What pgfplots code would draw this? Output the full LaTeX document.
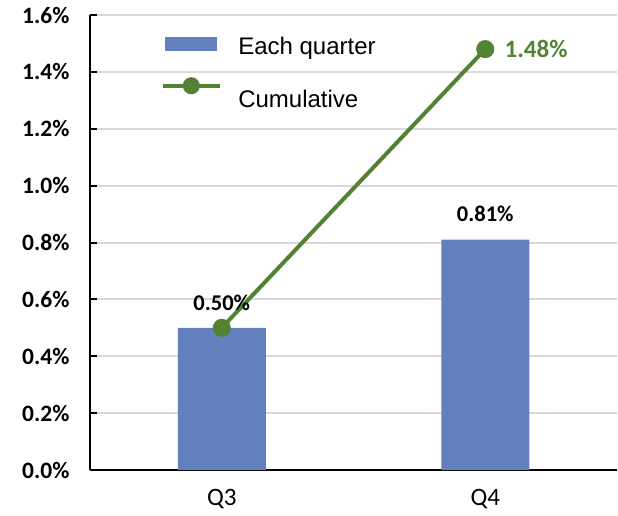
\documentclass[border=0pt]{standalone}
\usepackage{pgfplots}
\pgfplotsset{compat=1.18}
\usepackage{fontspec}
\setmainfont{Carlito}
\newfontfamily\arial{Liberation Sans}
\definecolor{barblue}{RGB}{98,128,189}
\definecolor{linegreen}{RGB}{84,130,53}
\definecolor{gridgray}{RGB}{217,217,217}
\pgfplotsset{
    barleg/.style={legend image code/.code={\fill[barblue] (2pt,-4pt) rectangle (54pt,10pt);}},
    lineleg/.style={legend image code/.code={%
        \path[draw=none,fill=none] (0pt,-4pt) rectangle (57pt,4pt);
        \draw[##1,overlay,mark repeat=2,mark phase=2,mark size=6.5pt] plot coordinates {(0pt,14pt) (28pt,14pt) (57pt,14pt)};}},
}
\begin{document}
\begin{tikzpicture}
\begin{axis}[
    name=ax,
    scale only axis,
    width=527pt, height=455pt,
    xmin=-0.5, xmax=1.5,
    ymin=0, ymax=1.6,
    axis lines*=left,
    axis line style={line width=2.5pt, black},
    xtick={0,1},
    xticklabels={Q3,Q4},
    xtick style={draw=none},
    xticklabel style={font=\fontsize{25}{25}\selectfont, yshift=-16pt},
    ytick={0,0.2,0.4,0.6,0.8,1.0,1.2,1.4,1.6},
    yticklabel={\pgfmathprintnumber[fixed,precision=1,zerofill]{\tick}\%},
    yticklabel style={font=\fontsize{23.5}{23.5}\selectfont\bfseries, xshift=-17pt},
    /pgf/number format/assume math mode=true,
    ytick style={black, line width=2pt},
    major tick length=7pt,
    ymajorgrids,
    grid style={gridgray, line width=2pt},
    legend cell align=left,
    legend style={
        at={(0.133,0.96)}, anchor=north west,
        draw=none, fill=none,
        font=\arial\fontsize{24}{24}\selectfont,
        row sep=30pt,
        column sep=16pt,
    },
]
\addplot[
    ybar, bar width=88pt, fill=barblue, draw=none,
    nodes near coords={\pgfmathprintnumber[fixed,precision=2,zerofill]{\pgfplotspointmeta}\%},
    point meta=y,
    nodes near coords style={font=\fontsize{22.5}{22.5}\selectfont\bfseries, black, anchor=south, yshift=14pt},
    barleg,
] coordinates {(0,0.50) (1,0.81)};
\addlegendentry{Each quarter}
\addplot[
    linegreen, line width=4pt,
    mark=*, mark size=7pt, mark options={fill=linegreen, draw=none},
    lineleg,
] coordinates {(0,0.50) (1,1.48)}
  node[pos=1, anchor=west, xshift=14pt, font=\fontsize{25}{25}\selectfont\bfseries, text=linegreen] {1.48\%};
\addlegendentry{Cumulative}
\end{axis}
\pgfresetboundingbox
\path (ax.south west) ++(-90pt,-45pt) rectangle ++(618pt,515pt);
\end{tikzpicture}
\end{document}
